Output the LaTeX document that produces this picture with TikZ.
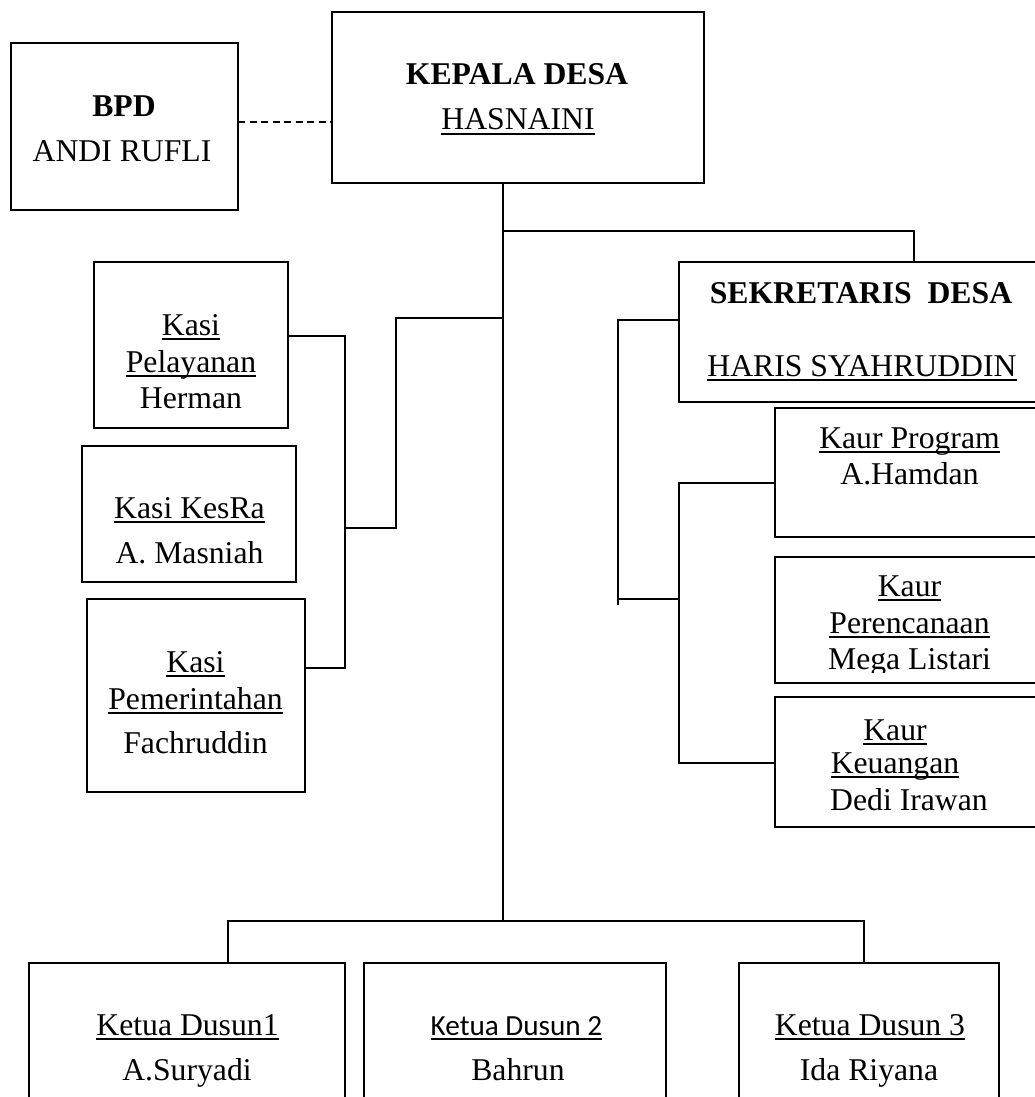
\documentclass[tikz,border=0pt]{standalone}
\usepackage{fontspec}
\setmainfont{Liberation Serif}
\newfontfamily\calibfont{Carlito}
\newcommand{\tnr}{\fontsize{31.7}{38}\selectfont}
\newcommand{\calibsz}{\calibfont\fontsize{29.2}{35}\selectfont}
\newcommand{\ulx}[1]{\setbox0\hbox{#1}\rlap{\vrule height -0.1em depth 0.16em width \wd0}\box0}
\begin{document}
\begin{tikzpicture}[x=1pt,y=-1pt,
  box/.style={draw, line width=1.8pt, anchor=north west, inner sep=0pt, outer sep=0pt},
  conn/.style={line width=1.6pt},
  txt/.style={inner sep=0pt, anchor=base, font=\tnr}]
\useasboundingbox (0,0) rectangle (1035,1097);
\clip (0,0) rectangle (1035,1097);

% boxes
\node[box, minimum width=227pt, minimum height=167pt] (bpd) at (11,43) {};
\node[box, minimum width=372pt, minimum height=171pt] (kepala) at (332,12) {};
\node[box, minimum width=370pt, minimum height=140pt] (sekdes) at (679,262) {};
\node[box, minimum width=194pt, minimum height=166pt] (kasi1) at (94,262) {};
\node[box, minimum width=214pt, minimum height=136pt] (kasi2) at (82,446) {};
\node[box, minimum width=218pt, minimum height=193pt] (kasi3) at (87,599) {};
\node[box, minimum width=270pt, minimum height=129pt] (kaur1) at (775,408) {};
\node[box, minimum width=270pt, minimum height=126pt] (kaur2) at (775,557) {};
\node[box, minimum width=270pt, minimum height=130pt] (kaur3) at (775,697) {};
\node[box, minimum width=316pt, minimum height=150pt] (dusun1) at (29,963) {};
\node[box, minimum width=302pt, minimum height=150pt] (dusun2) at (364,963) {};
\node[box, minimum width=260pt, minimum height=150pt] (dusun3) at (739,963) {};

% helper coordinates
\coordinate (dashY) at (0,122);
\coordinate (tx) at (503,0);
\coordinate (jTop) at (503,231);
\coordinate (jLeft) at (503,318);
\coordinate (jBot) at (503,921);
\coordinate (sx) at (914,0);
\coordinate (lx) at (396,528);
\coordinate (kx) at (345,0);
\coordinate (k1y) at (0,336);
\coordinate (k3y) at (0,668);
\coordinate (s1y) at (0,320);
\coordinate (ax) at (618,0);
\coordinate (aEnd) at (618,605);
\coordinate (a2y) at (0,599);
\coordinate (bx) at (679,0);
\coordinate (b1y) at (0,483);
\coordinate (b3y) at (0,763);
\coordinate (d1x) at (228,0);
\coordinate (d3x) at (864,0);

% connectors
\draw[conn, dash pattern=on 7pt off 4.5pt] (bpd.east |- dashY) -- (kepala.west |- dashY);
\draw[conn] (kepala.south -| tx) -- (jBot);
\draw[conn] (jTop) -| (sekdes.north -| sx);
\draw[conn] (jLeft) -| (lx) -- (lx -| kx);
\draw[conn] (kasi1.east |- k1y) -| (kx |- k3y) -- (kasi3.east |- k3y);
\draw[conn] (sekdes.west |- s1y) -- (ax |- s1y) -- (aEnd);
\draw[conn] (ax |- a2y) -- (bx |- a2y);
\draw[conn] (kaur1.west |- b1y) -- (bx |- b1y) -- (bx |- b3y) -- (kaur3.west |- b3y);
\draw[conn] (dusun1.north -| d1x) -- (d1x |- jBot) -- (d3x |- jBot) -- (dusun3.north -| d3x);

% texts
\node[txt] (tBpd1) at (124,117) {\bfseries BPD};
\node[txt] (tBpd2) at (122,161) {ANDI RUFLI};
\node[txt] (tKd1) at (517,85) {\bfseries KEPALA DESA};
\node[txt] (tKd2) at (518,130) {\ulx{HASNAINI}};
\node[txt] (tSd1) at (861,303) {\bfseries SEKRETARIS\ \ DESA};
\node[txt] (tSd2) at (862,376) {\ulx{HARIS SYAHRUDDIN}};

\node[txt] (tK1a) at (191,335) {\ulx{Kasi}};
\node[txt] (tK1b) at (191,372) {\ulx{Pelayanan}};
\node[txt] (tK1c) at (191,408) {Herman};
\node[txt] (tK2a) at (189.5,518) {\ulx{Kasi KesRa}};
\node[txt] (tK2b) at (189.5,563) {A. Masniah};
\node[txt] (tK3a) at (195.5,672) {\ulx{Kasi}};
\node[txt] (tK3b) at (195.5,709) {\ulx{Pemerintahan}};
\node[txt] (tK3c) at (195.5,753) {Fachruddin};

\node[txt] (tU1a) at (909.5,448) {\ulx{Kaur Program}};
\node[txt] (tU1b) at (909.5,484) {A.Hamdan};
\node[txt] (tU2a) at (909.5,596) {\ulx{Kaur}};
\node[txt] (tU2b) at (909.5,633) {\ulx{Perencanaan}};
\begin{scope}
\clip (775,557) rectangle (1045,672);
\node[txt] (tU2c) at (909.5,669) {Mega Listari};
\end{scope}
\node[txt] (tU3a) at (895,740) {\ulx{Kaur}};
\node[txt] (tU3b) at (895,773) {\ulx{Keuangan}};
\node[txt, anchor=base west] (tU3c) at (830,810) {Dedi Irawan};

\node[txt] (tD1a) at (187.5,1035) {\ulx{Ketua Dusun1}};
\node[txt] (tD1b) at (187,1080) {A.Suryadi};
\node[txt, font=\calibsz] (tD2a) at (516.5,1035) {\ulx{Ketua Dusun 2}};
\node[txt] (tD2b) at (518,1080) {Bahrun};
\node[txt] (tD3a) at (870,1035) {\ulx{Ketua Dusun 3}};
\node[txt] (tD3b) at (869,1080) {Ida Riyana};
\end{tikzpicture}
\end{document}
